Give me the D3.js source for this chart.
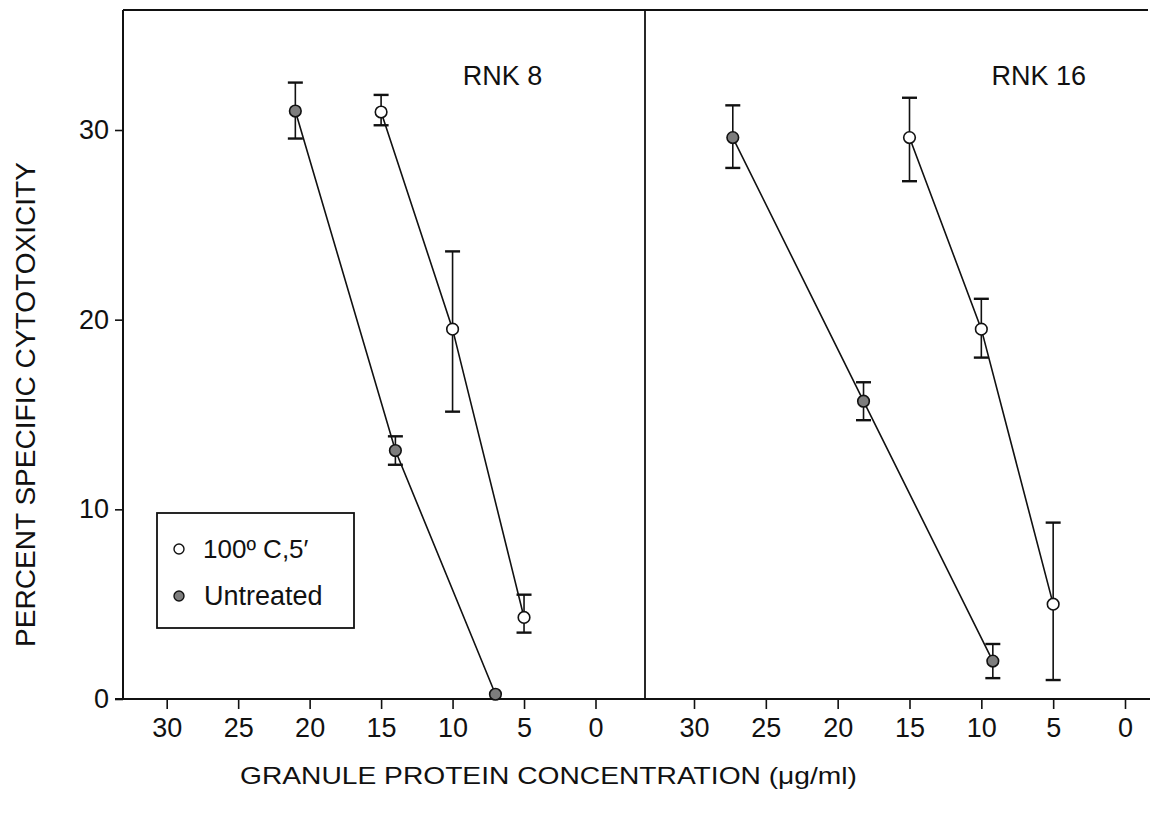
<!DOCTYPE html>
<html>
<head>
<meta charset="utf-8">
<script src="https://cdn.jsdelivr.net/npm/d3@7"></script>
<style>
  html, body { margin: 0; padding: 0; background: #fff; }
  svg text { font-family: "Liberation Sans", Arial, Helvetica, sans-serif; fill: #111; }
</style>
</head>
<body>
<svg id="chart" width="1162" height="818"></svg>
<script>
// Granule protein concentration (µg/ml) and percent specific cytotoxicity
const panels = ["RNK 8", "RNK 16"];
const xTicks = [30, 25, 20, 15, 10, 5, 0];
const yTicks = [0, 10, 20, 30];

// RNK 8
const rnk8UntreatedConc = [21, 14, 7];
const rnk8UntreatedPct  = [31, 13.1, 0.25];
const rnk8UntreatedLo   = [29.55, 12.35, null];
const rnk8UntreatedHi   = [32.5, 13.85, null];

const rnk8HeatedConc = [15, 10, 5];
const rnk8HeatedPct  = [30.95, 19.5, 4.3];
const rnk8HeatedLo   = [30.25, 15.15, 3.5];
const rnk8HeatedHi   = [31.85, 23.6, 5.5];

// RNK 16
const rnk16UntreatedConc = [27.3, 18.2, 9.2];
const rnk16UntreatedPct  = [29.6, 15.7, 2.0];
const rnk16UntreatedLo   = [28.0, 14.7, 1.1];
const rnk16UntreatedHi   = [31.3, 16.7, 2.9];

const rnk16HeatedConc = [15, 10, 5];
const rnk16HeatedPct  = [29.6, 19.5, 5.0];
const rnk16HeatedLo   = [27.3, 18.0, 1.0];
const rnk16HeatedHi   = [31.7, 21.1, 9.3];

const legendLabels = ["100\u00BA C,5\u2032", "Untreated"];

const svg = d3.select("#chart");

// Frame geometry
const frameTop = 10, frameBottom = 699, frameLeft = 123, divider = 645, frameRight = 1148;

const y = d3.scaleLinear().domain([0, 30]).range([frameBottom, 130]);
const xL = d3.scaleLinear().domain([30, 0]).range([166.7, 595.5]);
const xR = d3.scaleLinear().domain([30, 0]).range([694, 1125]);

const ink = "#111";

// frame lines
svg.append("line").attr("x1", frameLeft).attr("x2", frameRight).attr("y1", frameTop).attr("y2", frameTop)
  .attr("stroke", ink).attr("stroke-width", 1.8);
svg.append("line").attr("x1", frameLeft).attr("x2", frameLeft).attr("y1", frameTop).attr("y2", frameBottom)
  .attr("stroke", ink).attr("stroke-width", 2);
svg.append("line").attr("x1", divider).attr("x2", divider).attr("y1", frameTop).attr("y2", frameBottom)
  .attr("stroke", ink).attr("stroke-width", 1.8);

// y axis
const yAxis = d3.axisLeft(y).tickValues(yTicks).tickSize(8).tickPadding(6).tickFormat(d3.format("d"));
const gy = svg.append("g").attr("transform", `translate(${frameLeft},0)`).call(yAxis);
gy.select(".domain").remove();
gy.selectAll(".tick line").attr("stroke", ink).attr("stroke-width", 1.6);
gy.selectAll(".tick text").attr("font-size", 27).attr("fill", ink);

// x axes
function drawX(scale) {
  const ax = d3.axisBottom(scale).tickValues(xTicks).tickSize(10).tickPadding(9).tickFormat(d3.format("d"));
  const g = svg.append("g").attr("transform", `translate(0,${frameBottom})`).call(ax);
  g.select(".domain").remove();
  g.selectAll(".tick line").attr("stroke", ink).attr("stroke-width", 1.6);
  g.selectAll(".tick text").attr("font-size", 27).attr("fill", ink);
}
drawX(xL);
drawX(xR);
svg.append("line").attr("x1", frameLeft - 8).attr("x2", frameRight + 2).attr("y1", frameBottom).attr("y2", frameBottom)
  .attr("stroke", ink).attr("stroke-width", 2);

// panel titles
svg.append("text").attr("x", xL(6.5)).attr("y", 85).attr("text-anchor", "middle")
  .attr("font-size", 27).text(panels[0]);
svg.append("text").attr("x", xR(6)).attr("y", 85).attr("text-anchor", "middle")
  .attr("font-size", 27).text(panels[1]);

// axis titles
svg.append("text")
  .attr("transform", `translate(35,${(162 + 647) / 2}) rotate(-90)`)
  .attr("text-anchor", "middle").attr("font-size", 27)
  .attr("textLength", 485).attr("lengthAdjust", "spacingAndGlyphs")
  .text("PERCENT SPECIFIC CYTOTOXICITY");
svg.append("text")
  .attr("x", (240 + 857) / 2).attr("y", 784).attr("text-anchor", "middle")
  .attr("font-size", 24).attr("textLength", 617).attr("lengthAdjust", "spacingAndGlyphs")
  .text("GRANULE PROTEIN CONCENTRATION (\u03BCg/ml)");

function series(xs, conc, pct, lo, hi, filled) {
  const pts = conc.map((c, i) => ({ c, p: pct[i], lo: lo[i], hi: hi[i] }));
  const line = d3.line().x(d => xs(d.c)).y(d => y(d.p));
  svg.append("path").attr("d", line(pts)).attr("fill", "none")
    .attr("stroke", ink).attr("stroke-width", 1.6);
  const g = svg.append("g");
  pts.filter(d => d.lo != null).forEach(d => {
    const cx = xs(d.c);
    g.append("line").attr("x1", cx).attr("x2", cx).attr("y1", y(d.lo)).attr("y2", y(d.hi))
      .attr("stroke", ink).attr("stroke-width", 1.6);
    [d.lo, d.hi].forEach(v => {
      g.append("line").attr("x1", cx - 7.5).attr("x2", cx + 7.5).attr("y1", y(v)).attr("y2", y(v))
        .attr("stroke", ink).attr("stroke-width", 2.4);
    });
  });
  g.selectAll("circle").data(pts).join("circle")
    .attr("cx", d => xs(d.c)).attr("cy", d => y(d.p)).attr("r", 5.8)
    .attr("fill", filled ? "#7d7d7d" : "#fff")
    .attr("stroke", ink).attr("stroke-width", 1.6);
}

series(xL, rnk8UntreatedConc, rnk8UntreatedPct, rnk8UntreatedLo, rnk8UntreatedHi, true);
series(xL, rnk8HeatedConc, rnk8HeatedPct, rnk8HeatedLo, rnk8HeatedHi, false);
series(xR, rnk16UntreatedConc, rnk16UntreatedPct, rnk16UntreatedLo, rnk16UntreatedHi, true);
series(xR, rnk16HeatedConc, rnk16HeatedPct, rnk16HeatedLo, rnk16HeatedHi, false);

// legend
const lg = svg.append("g");
lg.append("rect").attr("x", 157).attr("y", 513).attr("width", 197).attr("height", 115)
  .attr("fill", "#fff").attr("stroke", ink).attr("stroke-width", 1.8);
lg.append("circle").attr("cx", 179).attr("cy", 549).attr("r", 5).attr("fill", "#fff")
  .attr("stroke", ink).attr("stroke-width", 1.4);
lg.append("circle").attr("cx", 179).attr("cy", 596).attr("r", 5).attr("fill", "#7d7d7d")
  .attr("stroke", ink).attr("stroke-width", 1.4);
lg.append("text").attr("x", 203).attr("y", 558).attr("font-size", 26).text(legendLabels[0]);
lg.append("text").attr("x", 204).attr("y", 605).attr("font-size", 27).text(legendLabels[1]);
</script>
</body>
</html>
